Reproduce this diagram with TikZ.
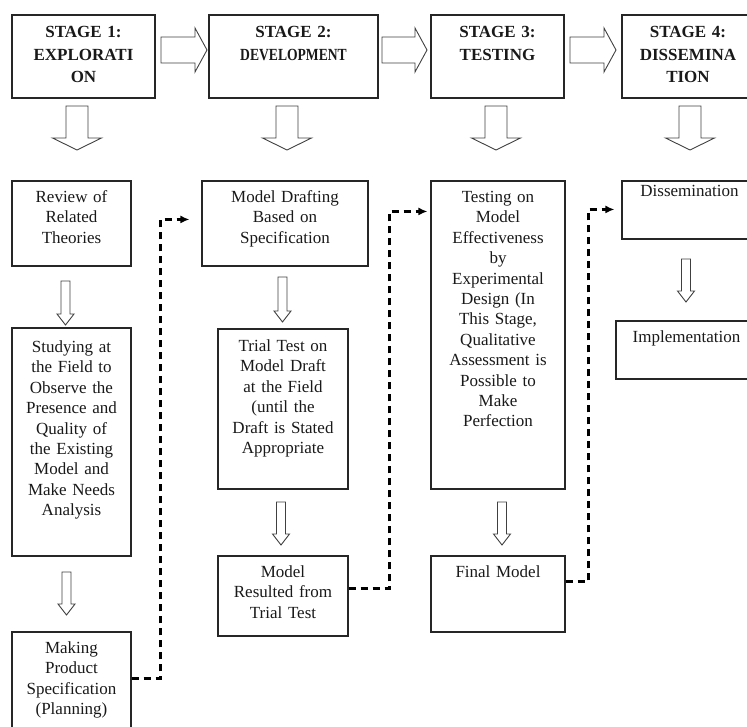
\documentclass[tikz,border=0pt]{standalone}
\usepackage{fontspec}
\setmainfont{Liberation Serif}
\usetikzlibrary{arrows.meta,calc,fit}
\tikzset{
  box/.style={draw=black!85, line width=1.1pt, inner sep=0pt},
  txt/.style={inner sep=0pt, align=center, font=\fontsize{17}{20.4}\selectfont, text=black!90},
  ttl/.style={inner sep=0pt, align=center, font=\bfseries\fontsize{17}{22.6}\selectfont, text=black!90},
  blk/.style={draw=black!75, line width=0.9pt, fill=white, line join=miter},
  dashc/.style={draw=black, line width=2.2pt, dash pattern=on 7pt off 5pt, -{Latex[length=9pt,width=8pt]}},
  pics/blkdown/.style n args={4}{code={
    \draw[blk] (-#2,0) -- (-#2,#1-#4) -- (-#3,#1-#4) -- (0,#1) -- (#3,#1-#4) -- (#2,#1-#4) -- (#2,0) -- cycle;}},
  pics/blkright/.style n args={4}{code={
    \draw[blk] (0,-#2) -- (#1-#4,-#2) -- (#1-#4,-#3) -- (#1,0) -- (#1-#4,#3) -- (#1-#4,#2) -- (0,#2) -- cycle;}}
}
\begin{document}
\begin{tikzpicture}[x=1pt,y=-1pt]
\useasboundingbox (0,0) rectangle (747,727);
% stage boxes
\node[box, fit={(12,15) (155,98)}] (s1) {};
\node[box, fit={(209,15) (378,98)}] (s2) {};
\node[box, fit={(431,15) (564,98)}] (s3) {};
\node[box, fit={(622,15) (754,98)}] (s4) {};
\node[ttl, text width=140pt, anchor=base] (s1t) at ([yshift=-23pt]s1.north) {STAGE 1:\\EXPLORATI\\ON};
\node[ttl, text width=165pt, anchor=base] (s2t) at ([yshift=-23pt]s2.north) {STAGE 2:\\\scalebox{0.8}[1]{DEVELOPMENT}};
\node[ttl, text width=130pt, anchor=base] (s3t) at ([yshift=-23pt]s3.north) {STAGE 3:\\TESTING};
\node[ttl, text width=130pt, anchor=base] (s4t) at ([yshift=-23pt]s4.north) {STAGE 4:\\DISSEMINA\\TION};
% right block arrows
\pic at (161,50) {blkright={46}{13}{22}{12}};
\pic at (382,50) {blkright={45}{13}{22}{12}};
\pic at (570,50) {blkright={46}{13}{22}{12}};
% big down arrows
\pic at (77,106) {blkdown={44}{11}{24.5}{12}};
\pic at (287,106) {blkdown={44}{11}{24.5}{12}};
\pic at (496,106) {blkdown={44}{11}{24.5}{12}};
\pic at (690,106) {blkdown={44}{11}{24.5}{12}};
% column 1
\node[box, fit={(12,181) (131,266)}] (rv) {};
\node[txt, text width=115pt, anchor=base] (rvt) at ([yshift=-22pt]rv.north) {Review of\\Related\\Theories};
\node[box, fit={(12,328) (131,556)}] (st) {};
\node[txt, text width=115pt, anchor=base] (stt) at ([yshift=-25pt]st.north) {Studying at\\the Field to\\Observe the\\Presence and\\Quality of\\the Existing\\Model and\\Make Needs\\Analysis};
\node[box, fit={(12,632) (131,745)}] (mk) {};
\node[txt, text width=115pt, anchor=base] (mkt) at ([yshift=-22pt]mk.north) {Making\\Product\\Specification\\(Planning)};
\pic at (65.5,281) {blkdown={44}{4.5}{8.5}{11}};
\pic at (66.5,572) {blkdown={43}{4.5}{8.5}{11}};
% column 2
\node[box, fit={(202,181) (368,266)}] (md) {};
\node[txt, text width=160pt, anchor=base] (mdt) at ([yshift=-22pt]md.north) {Model Drafting\\Based on\\Specification};
\node[box, fit={(218,329) (348,489)}] (tt) {};
\node[txt, text width=126pt, anchor=base] (ttt) at ([yshift=-23pt]tt.north) {Trial Test on\\Model Draft\\at the Field\\(until the\\Draft is Stated\\Appropriate};
\node[box, fit={(218,556) (348,636)}] (mr) {};
\node[txt, text width=126pt, anchor=base] (mrt) at ([yshift=-22pt]mr.north) {Model\\Resulted from\\Trial Test};
\pic at (282.5,277) {blkdown={45}{4.5}{8.5}{11}};
\pic at (281,502) {blkdown={43}{4.5}{8.5}{11}};
% column 3
\node[box, fit={(431,181) (565,489)}] (te) {};
\node[txt, text width=130pt, anchor=base] (tet) at ([yshift=-22pt]te.north) {Testing on\\Model\\Effectiveness\\by\\Experimental\\Design (In\\This Stage,\\Qualitative\\Assessment is\\Possible to\\Make\\Perfection};
\node[box, fit={(431,556) (565,632)}] (fm) {};
\node[txt, text width=130pt, anchor=base] (fmt) at ([yshift=-22pt]fm.north) {Final Model};
\pic at (502,502) {blkdown={43}{4.5}{8.5}{11}};
% column 4
\node[box, fit={(622,181) (757,239)}] (ds) {};
\node[txt, text width=130pt, anchor=base] (dst) at ([yshift=-16pt]ds.north) {Dissemination};
\node[box, fit={(616,321) (757,379)}] (im) {};
\node[txt, text width=138pt, anchor=base] (imt) at ([yshift=-22pt]im.north) {Implementation};
\pic at (686,259) {blkdown={43}{4.5}{8.5}{11}};
% dashed connectors
\coordinate (d1) at ($(md.north west)+(-12,39)$);
\draw[dashc] ($(mk.north east)+(0,47)$) -| ($(d1)+(-29,0)$) -- (d1);
\coordinate (d2) at ($(te.north west)+(-3,31)$);
\draw[dashc] ($(mr.north east)+(0,33)$) -| ($(d2)+(-38,0)$) -- (d2);
\coordinate (d3) at ($(ds.north west)+(-7,29)$);
\draw[dashc] ($(fm.north east)+(0,26)$) -| ($(d3)+(-26,0)$) -- (d3);
\end{tikzpicture}
\end{document}
